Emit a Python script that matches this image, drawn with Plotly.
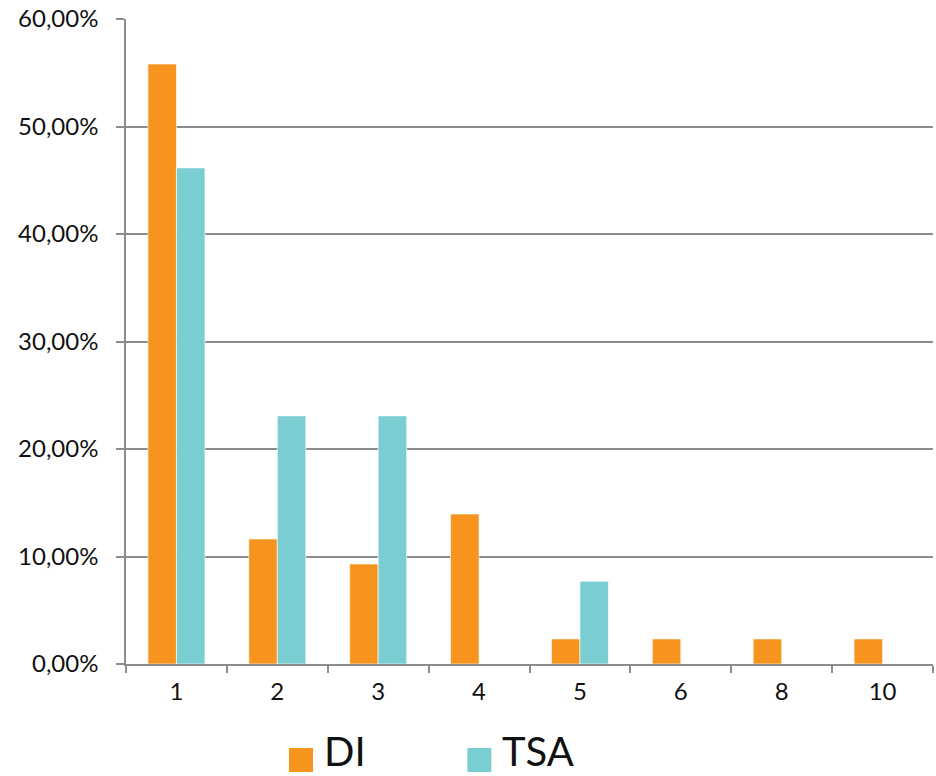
import plotly.graph_objects as go

# Category labels (number of occurrences) and share of each group, in percent
categories = ["1", "2", "3", "4", "5", "6", "8", "10"]
di_values = [55.81, 11.63, 9.30, 13.95, 2.33, 2.33, 2.33, 2.33]
tsa_values = [46.15, 23.08, 23.08, 0.0, 7.69, 0.0, 0.0, 0.0]
y_ticks = [0, 10, 20, 30, 40, 50, 60]
y_tick_labels = ["0,00%", "10,00%", "20,00%", "30,00%", "40,00%", "50,00%", "60,00%"]

ORANGE = "#F7941E"
TEAL = "#7ACED1"
GRID = "#8C8C8C"
FONT = "Lato, 'Open Sans', sans-serif"
TEXT = "#111111"

fig = go.Figure()
fig.add_trace(go.Bar(x=categories, y=di_values, name="DI",
                     marker=dict(color=ORANGE, line=dict(color="white", width=0.6)),
                     showlegend=False))
fig.add_trace(go.Bar(x=categories, y=tsa_values, name="TSA",
                     marker=dict(color=TEAL, line=dict(color="white", width=0.6)),
                     showlegend=False))

fig.update_layout(
    width=936, height=776,
    margin=dict(l=126, r=3, t=19, b=112),
    paper_bgcolor="white", plot_bgcolor="white",
    barmode="group", bargap=0.435, bargroupgap=0,
    font=dict(family=FONT, color=TEXT, size=24),
    xaxis=dict(
        type="category", showgrid=False, showline=True, linecolor=GRID, linewidth=1.5,
        ticks="outside", tickson="boundaries", ticklen=7, tickcolor=GRID, tickwidth=1.5,
        tickfont=dict(size=24), ticklabelstandoff=5,
    ),
    yaxis=dict(
        range=[0, 60], tickvals=y_ticks, ticktext=y_tick_labels,
        showgrid=True, gridcolor=GRID, gridwidth=1.5, zeroline=False,
        showline=True, linecolor=GRID, linewidth=1.5,
        ticks="outside", ticklen=8, tickcolor=GRID, tickwidth=1.5,
        tickfont=dict(size=24), ticklabelstandoff=13,
    ),
)

# Legend below the plot: large colour squares with the series names
legend_items = [("DI", ORANGE, 0.202), ("TSA", TEAL, 0.423)]
plot_h = 776 - 19 - 112
plot_w = 936 - 126 - 3
sq = 24
for name, color, x0 in legend_items:
    y_top = -84 / plot_h
    fig.add_shape(type="rect", xref="paper", yref="paper",
                  x0=x0, x1=x0 + sq / plot_w, y0=y_top - sq / plot_h, y1=y_top,
                  fillcolor=color, line=dict(width=0))
    fig.add_annotation(xref="paper", yref="paper", x=x0 + (sq + 10) / plot_w,
                       y=-112 / plot_h, xanchor="left", yanchor="bottom",
                       text=name, showarrow=False, borderpad=0,
                       font=dict(family=FONT, size=40, color=TEXT))

fig.write_html("out.html")
